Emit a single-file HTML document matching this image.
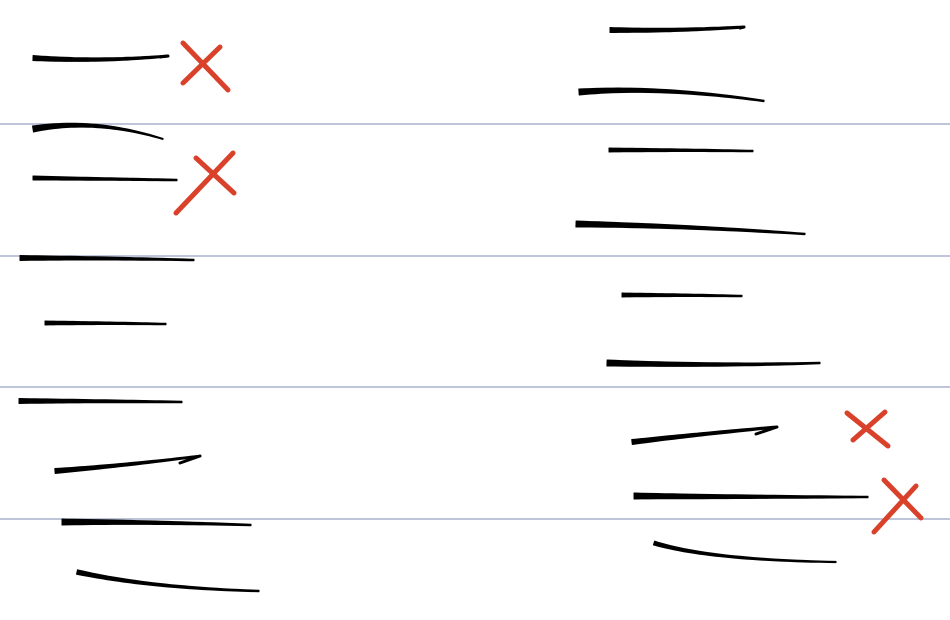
<!DOCTYPE html>
<html>
<head>
<meta charset="utf-8">
<style>
  html,body{margin:0;padding:0;background:#fff;}
  svg{display:block;}
</style>
</head>
<body>
<svg id="sheet" width="950" height="620" viewBox="0 0 950 620" xmlns="http://www.w3.org/2000/svg">
  <rect width="950" height="620" fill="#ffffff"/>
  <g id="rules"></g>
  <g id="strokes"></g>
  <g id="marks"></g>
</svg>
<script>
// Horizontal ruled line positions
const ruleYs = [124, 256, 387, 519];
// Pen strokes: start, control, end, start width, end width
const strokeStarts = [[33,58],[33,129],[33,178],[20,258],[45,323],[19,401],[55,471],[62,522],[77,572],
                      [610,30],[579,92],[609,150],[576,224],[622,295],[607,363],[632,442],[634,496],[654,543]];
const strokeCtrls  = [[100,62],[95,118],[105,179],[105,258],[105,323],[100,401],[130,465],[155,522],[150,588],
                      [680,31],[660,86],[680,150],[690,226],[682,295],[720,366],[700,434],[750,497],[710,560]];
const strokeEnds   = [[168,56],[163,139],[177,180],[194,260],[166,324],[182,402],[200,456],[251,525],[259,591],
                      [744,27],[764,101],[753,151],[805,234],[742,296],[820,363],[777,427],[868,497],[836,562]];
const strokeWidths = [[5,2],[6,1],[4,1.5],[5,1.5],[4,1.5],[5,1.5],[5,1.5],[6,1.5],[4.5,1.5],
                      [5,2],[6,1.5],[4,1.5],[6,1.5],[4,1.5],[6,1.5],[5,2],[6,1.5],[4,1.2]];
// Extra small hooks
const hooks = [[[160,57],[168,56]],[[180,463],[200,456]],[[756,434],[777,427]],[[740,28],[744,27]]];
// Red X marks: two strokes each
const xMarksA = [[[183,43],[228,90]],[[196,158],[234,193]],[[847,413],[888,446]],[[884,480],[921,518]]];
const xMarksB = [[[220,47],[183,83]],[[233,153],[176,213]],[[885,412],[853,440]],[[916,486],[874,532]]];

const NS = "http://www.w3.org/2000/svg";
const rules = document.getElementById('rules');
ruleYs.forEach((y,i)=>{
  const l = document.createElementNS(NS,'line');
  l.setAttribute('x1',0);l.setAttribute('x2',950);l.setAttribute('y1',y);l.setAttribute('y2',y);
  l.setAttribute('stroke','#aab2cb');l.setAttribute('stroke-width','1.6');
  
  
  rules.appendChild(l);
});

const strokesG = document.getElementById('strokes');
function q(p0,c,p1,t){const u=1-t;return [u*u*p0[0]+2*u*t*c[0]+t*t*p1[0],u*u*p0[1]+2*u*t*c[1]+t*t*p1[1]];}
strokeStarts.forEach((s,i)=>{
  const c=strokeCtrls[i], e=strokeEnds[i], w=strokeWidths[i];
  const N=30, left=[], right=[];
  for(let k=0;k<=N;k++){
    const t=k/N, p=q(s,c,e,t), p2=q(s,c,e,Math.min(1,t+0.01)), p1=q(s,c,e,Math.max(0,t-0.01));
    let dx=p2[0]-p1[0], dy=p2[1]-p1[1]; const L=Math.hypot(dx,dy)||1; dx/=L; dy/=L;
    const hw=(w[0]+(w[1]-w[0])*Math.pow(t,0.8))/2;
    left.push([p[0]-dy*hw,p[1]+dx*hw]); right.push([p[0]+dy*hw,p[1]-dx*hw]);
  }
  const pts=left.concat(right.reverse()).map(p=>p[0].toFixed(1)+','+p[1].toFixed(1)).join(' ');
  const poly=document.createElementNS(NS,'polygon');
  poly.setAttribute('points',pts);poly.setAttribute('fill','#000');
  poly.setAttribute('stroke','#000');poly.setAttribute('stroke-width','1');poly.setAttribute('stroke-linejoin','round');
  
  
  strokesG.appendChild(poly);
});
hooks.forEach(h=>{
  const l=document.createElementNS(NS,'line');
  l.setAttribute('x1',h[0][0]);l.setAttribute('y1',h[0][1]);l.setAttribute('x2',h[1][0]);l.setAttribute('y2',h[1][1]);
  l.setAttribute('stroke','#000');l.setAttribute('stroke-width','3');l.setAttribute('stroke-linecap','round');
  
  
  strokesG.appendChild(l);
});

const marksG=document.getElementById('marks');
xMarksA.forEach((a,i)=>{
  [a,xMarksB[i]].forEach(seg=>{
    const l=document.createElementNS(NS,'line');
    l.setAttribute('x1',seg[0][0]);l.setAttribute('y1',seg[0][1]);l.setAttribute('x2',seg[1][0]);l.setAttribute('y2',seg[1][1]);
    l.setAttribute('stroke','#d9412b');l.setAttribute('stroke-width','5');l.setAttribute('stroke-linecap','round');
    
    
    marksG.appendChild(l);
  });
});
</script>
</body>
</html>
